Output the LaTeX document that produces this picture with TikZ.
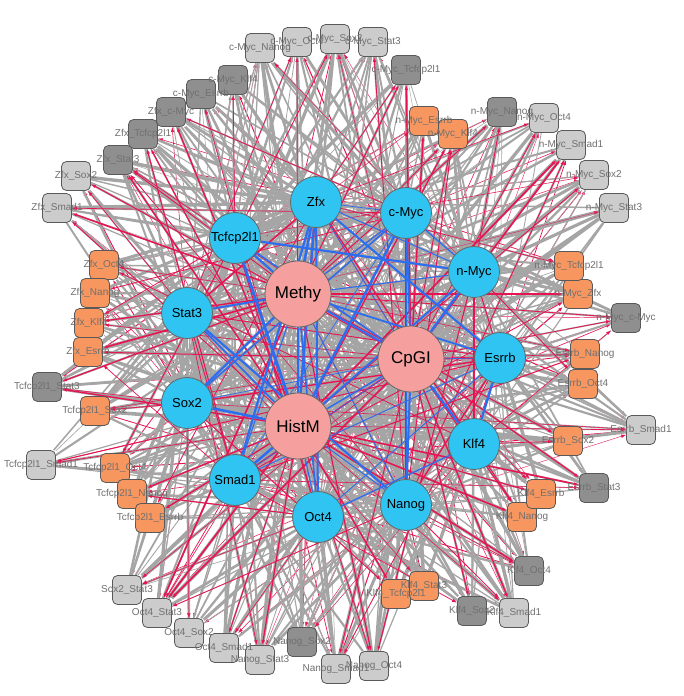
\documentclass[tikz,border=0pt]{standalone}
\usepackage{fontspec}
\setmainfont{Liberation Sans}
\usetikzlibrary{arrows.meta}
\definecolor{tfblue}{RGB}{47,196,242}
\definecolor{pinkc}{RGB}{245,160,158}
\definecolor{orangec}{RGB}{247,150,95}
\definecolor{lightg}{RGB}{204,204,204}
\definecolor{darkg}{RGB}{143,143,143}
\definecolor{labgray}{RGB}{112,112,112}
\definecolor{edgegray}{RGB}{165,165,165}
\definecolor{edgered}{RGB}{232,20,82}
\definecolor{edgeblue}{RGB}{45,110,240}
\pgfdeclarelayer{bg}
\pgfdeclarelayer{edges}
\pgfsetlayers{bg,edges,main}
\tikzset{
  tf/.style={circle, draw=black!60, line width=0.8pt, fill=tfblue, minimum size=51pt, inner sep=0pt, font=\fontsize{13}{13}\selectfont},
  pk/.style={circle, draw=black!60, line width=0.8pt, fill=pinkc, minimum size=66pt, inner sep=0pt, font=\fontsize{17}{17}\selectfont},
  outerbox/.style={rectangle, rounded corners=5pt, draw=black!65, line width=0.8pt, minimum size=29pt, inner sep=0pt},
  lightbox/.style={outerbox, fill=lightg},
  darkbox/.style={outerbox, fill=darkg},
  orangebox/.style={outerbox, fill=orangec},
  outerlab/.style={text=labgray, font=\fontsize{10}{10}\selectfont, inner sep=0pt},
  grayedge/.style={draw=edgegray},
  rededge/.style={draw=edgered, -{Latex[length=5pt,width=3.4pt]}},
  redline/.style={draw=edgered},
  blueedge/.style={draw=edgeblue},
}
\begin{document}
\begin{tikzpicture}[x=1pt,y=-1pt]
\pgfmathsetseed{11}
\begin{pgfonlayer}{bg}
\fill[white] (0,0) rectangle (683,696);
\end{pgfonlayer}
\useasboundingbox (0,0) rectangle (683,696);

% TF nodes
\foreach \n/\lab/\x/\y in {1/Esrrb/500/358, 2/n-Myc/474/272, 3/c-Myc/406/213, 4/Zfx/316/202, 5/Tcfcp2l1/235/238, 6/Stat3/187/313, 7/Sox2/187/403, 8/Smad1/235/480, 9/Oct4/318/517, 10/Nanog/406/505, 11/Klf4/474/444}
  \node[tf] (t\n) at (\x,\y) {\lab};

% epigenetic nodes
\node[pk] (p1) at (298,294) {Methy};
\node[pk] (p2) at (411,359) {CpGI};
\node[pk] (p3) at (298,426) {HistM};

% outer nodes
\def\outerlist{1/c-Myc\_Nanog/260/48/lightbox, 2/c-Myc\_Oct4/297/42/lightbox, 3/c-Myc\_Sox2/335/39/lightbox, 4/c-Myc\_Stat3/373/42/lightbox, 5/c-Myc\_Tcfcp2l1/406/70/darkbox, 6/c-Myc\_Klf4/233/80/darkbox, 7/c-Myc\_Esrrb/201/94/darkbox, 8/Zfx\_c-Myc/171/112/darkbox, 9/Zfx\_Tcfcp2l1/143/134/darkbox, 10/Zfx\_Stat3/118/160/darkbox, 11/Zfx\_Sox2/76/176/lightbox, 12/Zfx\_Smad1/57/208/lightbox, 13/Zfx\_Oct4/104/265/orangebox, 14/Zfx\_Nanog/95/293/orangebox, 15/Zfx\_Klf4/89/323/orangebox, 16/Zfx\_Esrrb/88/352/orangebox, 17/Tcfcp2l1\_Stat3/47/387/darkbox, 18/Tcfcp2l1\_Sox2/95/411/orangebox, 19/Tcfcp2l1\_Smad1/41/465/lightbox, 20/Tcfcp2l1\_Oct4/115/468/orangebox, 21/Tcfcp2l1\_Nanog/132/494/orangebox, 22/Tcfcp2l1\_Esrrb/150/518/orangebox, 23/Sox2\_Stat3/127/590/lightbox, 24/Oct4\_Stat3/157/613/lightbox, 25/Oct4\_Sox2/189/633/lightbox, 26/Oct4\_Smad1/224/648/lightbox, 27/Nanog\_Stat3/260/660/lightbox, 28/Nanog\_Sox2/302/642/darkbox, 29/Nanog\_Smad1/336/669/lightbox, 30/Nanog\_Oct4/374/666/lightbox, 31/Klf4\_Tcfcp2l1/396/594/orangebox, 32/Klf4\_Stat3/424/586/orangebox, 33/Klf4\_Sox2/472/611/darkbox, 34/Klf4\_Smad1/514/613/lightbox, 35/Klf4\_Oct4/529/571/darkbox, 36/Klf4\_Nanog/522/517/orangebox, 37/Klf4\_Esrrb/541/494/orangebox, 38/Esrrb\_Stat3/594/488/darkbox, 39/Esrrb\_Sox2/568/441/orangebox, 40/Esrrb\_Smad1/641/430/lightbox, 41/Esrrb\_Oct4/583/384/orangebox, 42/Esrrb\_Nanog/585/354/orangebox, 43/n-Myc\_c-Myc/626/318/darkbox, 44/n-Myc\_Zfx/578/294/orangebox, 45/n-Myc\_Tcfcp2l1/569/266/orangebox, 46/n-Myc\_Stat3/614/208/lightbox, 47/n-Myc\_Sox2/594/175/lightbox, 48/n-Myc\_Smad1/571/145/lightbox, 49/n-Myc\_Oct4/544/118/lightbox, 50/n-Myc\_Nanog/502/112/darkbox, 51/n-Myc\_Klf4/453/134/orangebox, 52/n-Myc\_Esrrb/424/121/orangebox}
\foreach \n/\lab/\x/\y/\ty in \outerlist
  \node[\ty] (o\n) at (\x,\y) {};
\foreach \n/\lab/\x/\y/\ty in \outerlist
  \node[outerlab] (l\n) at (o\n) {\lab};

\begin{pgfonlayer}{edges}
% red arrows into outer nodes (drawn first, partly under the gray)
\foreach \n in {1,...,52}{
  \foreach \j in {1,...,11}{
    \pgfmathtruncatemacro\rr{rnd*100}
    \ifnum\rr<22\relax
      \pgfmathsetmacro\ew{0.3+rnd*0.8}
      \draw[rededge, line width=\ew pt] (t\j) -- (o\n);
    \fi
  }
}
% gray edges outer -- inner
\foreach \n/\a/\b in {1/3/10, 2/3/9, 3/3/7, 4/3/6, 5/3/5, 6/3/11, 7/3/1, 8/4/3, 9/4/5, 10/4/6, 11/4/7, 12/4/8, 13/4/9, 14/4/10, 15/4/11, 16/4/1, 17/5/6, 18/5/7, 19/5/8, 20/5/9, 21/5/10, 22/5/1, 23/7/6, 24/9/6, 25/9/7, 26/9/8, 27/10/6, 28/10/7, 29/10/8, 30/10/9, 31/11/5, 32/11/6, 33/11/7, 34/11/8, 35/11/9, 36/11/10, 37/11/1, 38/1/6, 39/1/7, 40/1/8, 41/1/9, 42/1/10, 43/2/3, 44/2/4, 45/2/5, 46/2/6, 47/2/7, 48/2/8, 49/2/9, 50/2/10, 51/2/11, 52/2/1}{
  \foreach \k in {1,2,3}{
    \pgfmathsetmacro\ew{1.2+rnd*2.4}
    \draw[grayedge, line width=\ew pt] (o\n) -- (p\k);
  }
  \foreach \j in {1,...,11}{
    \pgfmathtruncatemacro\rr{rnd*100}
    \pgfmathsetmacro\ew{0.4+rnd*1.8}
    \ifnum\j=\a\relax \pgfmathsetmacro\ew{1.5+rnd*2}\def\rr{0}\fi
    \ifnum\j=\b\relax \pgfmathsetmacro\ew{1.5+rnd*2}\def\rr{0}\fi
    \ifnum\rr<50\relax \draw[grayedge, line width=\ew pt] (o\n) -- (t\j);\fi
  }
}
% gray edges among TFs
\foreach \i in {1,...,10}{
  \pgfmathtruncatemacro\ist{\i+1}
  \foreach \j in {\ist,...,11}{
    \pgfmathsetmacro\ew{0.8+rnd*2.8}
    \draw[grayedge, line width=\ew pt] (t\i) -- (t\j);
  }
}
% gray edges TF -- epigenetic
\foreach \k in {1,2,3}{
  \foreach \j in {1,...,11}{
    \pgfmathsetmacro\ew{0.8+rnd*2}
    \draw[grayedge, line width=\ew pt] (p\k) -- (t\j);
  }
}
% red arrows from epigenetic nodes into outer nodes
\foreach \n in {1,...,52}{
  \foreach \k in {1,2,3}{
    \pgfmathtruncatemacro\rr{rnd*100}
    \ifnum\rr<40\relax
      \pgfmathsetmacro\ew{0.5+rnd*1.3}
      \draw[rededge, line width=\ew pt] (p\k) -- (o\n);
    \fi
  }
  \pgfmathtruncatemacro\jj{1+int(rnd*11)}
  \pgfmathsetmacro\ew{0.3+rnd*0.8}
  \draw[rededge, line width=\ew pt] (t\jj) -- (o\n);
}
% red lines among TFs and epigenetic nodes
\foreach \i in {1,...,10}{
  \pgfmathtruncatemacro\ist{\i+1}
  \foreach \j in {\ist,...,11}{
    \pgfmathtruncatemacro\rr{rnd*100}
    \ifnum\rr<25\relax
      \pgfmathsetmacro\ew{0.4+rnd*1.2}
      \draw[redline, line width=\ew pt] (t\i) -- (t\j);
    \fi
  }
}
\foreach \k in {1,2,3}{
  \foreach \j in {1,...,11}{
    \pgfmathtruncatemacro\rr{rnd*100}
    \ifnum\rr<35\relax
      \pgfmathsetmacro\ew{0.5+rnd*1.6}
      \draw[redline, line width=\ew pt] (p\k) -- (t\j);
    \fi
  }
}
% blue edges
\foreach \k in {1,2,3}{
  \foreach \j in {1,...,11}{
    \pgfmathtruncatemacro\rr{rnd*100}
    \ifnum\rr<80\relax
      \pgfmathsetmacro\ew{0.6+rnd*2.2}
      \draw[blueedge, line width=\ew pt] (p\k) -- (t\j);
    \fi
  }
}
\foreach \i in {1,...,10}{
  \pgfmathtruncatemacro\ist{\i+1}
  \foreach \j in {\ist,...,11}{
    \pgfmathtruncatemacro\rr{rnd*100}
    \ifnum\rr<22\relax
      \pgfmathsetmacro\ew{0.6+rnd*2}
      \draw[blueedge, line width=\ew pt] (t\i) -- (t\j);
    \fi
  }
}
\draw[blueedge, line width=2pt] (p1) -- (p2);
\draw[blueedge, line width=1.5pt] (p1) -- (p3);
\draw[blueedge, line width=1.5pt] (p3) -- (p2);
\end{pgfonlayer}
\end{tikzpicture}
\end{document}
